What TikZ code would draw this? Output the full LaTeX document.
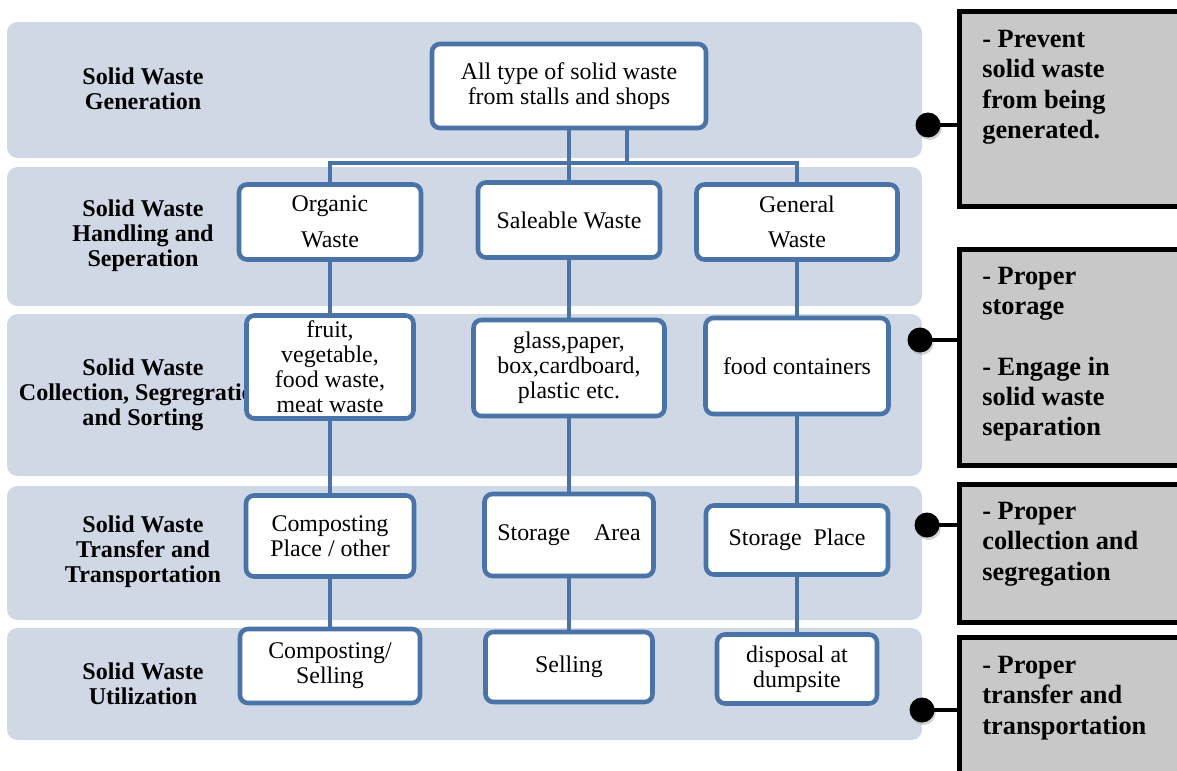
\documentclass[tikz,border=0pt]{standalone}
\usepackage{fontspec}
\setmainfont{Liberation Serif}
\usepackage{tikz}
\usetikzlibrary{positioning}
\usetikzlibrary{shadows}
\definecolor{bandgray}{HTML}{D0D8E6}
\definecolor{boxblue}{HTML}{4A73A8}
\definecolor{notegray}{HTML}{C8C8C8}

\begin{document}
\begin{tikzpicture}[
x=0.02cm, y=-0.02cm,
font=\fontsize{13.6}{14.2}\selectfont,
wastebox/.style={rectangle, draw=boxblue, line width=2.6pt, fill=white, rounded corners=4.5pt, align=center, inner sep=2pt},
stagenode/.style={align=center, font=\fontsize{13.7}{14.2}\selectfont\bfseries},
notebox/.style={rectangle, draw=black, line width=2.6pt, fill=notegray, anchor=north west, minimum width=4.8cm},
notetext/.style={anchor=north west, align=left, inner sep=0pt, font=\fontsize{15}{17.2}\selectfont\bfseries},
dotnode/.style={circle, fill=black, minimum size=0.5cm, inner sep=0pt, drop shadow={shadow xshift=0.8pt, shadow yshift=-1.4pt, fill=gray!70}},
link/.style={boxblue, line width=2.6pt},
noteline/.style={black, line width=2.6pt},
]
\useasboundingbox (0,0) rectangle (1177,771);

%Bands
\foreach \t/\b in {22/158, 167/306, 314/476, 486/620, 628/740}
  \fill[bandgray, rounded corners=6pt] (7,\t) rectangle (922,\b);

%Stage labels
\node[stagenode] (s1) at (143,89)  {Solid Waste\\Generation};
\node[stagenode] (s2) at (143,236) {Solid Waste\\Handling and\\Seperation};
\node[stagenode] (s3) at (143,395) {Solid Waste\\Collection, Segregration\\and Sorting};
\node[stagenode] (s4) at (143,552) {Solid Waste\\Transfer and\\Transportation};
\node[stagenode] (s5) at (143,684) {Solid Waste\\Utilization};

%Waste boxes
\node[wastebox, minimum width=5.48cm, minimum height=1.68cm] (all)   at (569,86)  {All type of solid waste\\from stalls and shops};
\node[wastebox, minimum width=3.64cm, minimum height=1.5cm]  (org)   at (330,222) {Organic\\[6pt]Waste};
\node[wastebox, minimum width=3.64cm, minimum height=1.5cm]  (sal)   at (569,220) {Saleable Waste};
\node[wastebox, minimum width=4.02cm, minimum height=1.5cm]  (gen)   at (797,222) {General\\[6pt]Waste};
\node[wastebox, minimum width=3.34cm, minimum height=2.06cm] (fruit) at (330,367) {fruit,\\vegetable,\\food waste,\\meat waste};
\node[wastebox, minimum width=3.82cm, minimum height=1.92cm] (glass) at (569,368) {glass,paper,\\box,cardboard,\\plastic etc.};
\node[wastebox, minimum width=3.66cm, minimum height=1.92cm] (food)  at (797,366) {food containers};
\node[wastebox, minimum width=3.36cm, minimum height=1.62cm] (comp)  at (330,536) {Composting\\Place / other};
\node[wastebox, minimum width=3.38cm, minimum height=1.64cm] (stora) at (569,535) {Storage\hspace{1em}Area};
\node[wastebox, minimum width=3.64cm, minimum height=1.38cm] (storp) at (797,540) {Storage\ \ Place};
\node[wastebox, minimum width=3.6cm,  minimum height=1.48cm] (csell) at (330,666) {Composting/\\Selling};
\node[wastebox, minimum width=3.34cm, minimum height=1.4cm]  (sell)  at (569,667) {Selling};
\node[wastebox, minimum width=3.2cm,  minimum height=1.38cm] (disp)  at (797,669) {disposal at\\dumpsite};

%Lines
\coordinate (hub)  at (569,163);
\coordinate (stem) at (627,163);
\draw[link] (all) -- (sal);
\draw[link] (all.south -| stem) -- (stem);
\draw[link] (org.north) |- (hub) -| (gen.north);
\draw[link] (org) -- (fruit);
\draw[link] (sal) -- (glass);
\draw[link] (gen) -- (food);
\draw[link] (fruit) -- (comp);
\draw[link] (glass) -- (stora);
\draw[link] (food) -- (storp);
\draw[link] (comp) -- (csell);
\draw[link] (stora) -- (sell);
\draw[link] (storp) -- (disp);

%Notes
\node[notebox, minimum height=3.9cm]  (n1) at (957,9)   {};
\node[notebox, minimum height=4.32cm] (n2) at (957,247) {};
\node[notebox, minimum height=2.76cm] (n3) at (957,482) {};
\node[notebox, minimum height=3.2cm]  (n4) at (957,635) {};
\node[notetext, below right=0.42cm and 0.5cm of n1.north west] (t1) {- Prevent\\solid waste\\from being\\generated.};
\node[notetext, below right=0.4cm and 0.5cm of n2.north west]  (t2) {- Proper\\storage\\[17.2pt]- Engage in\\solid waste\\separation};
\node[notetext, below right=0.4cm and 0.5cm of n3.north west]  (t3) {- Proper\\collection and\\segregation};
\node[notetext, below right=0.42cm and 0.5cm of n4.north west] (t4) {- Proper\\transfer and\\transportation};

\node[dotnode] (d1) at (928,125) {};
\node[dotnode] (d2) at (920,340) {};
\node[dotnode] (d3) at (927,525) {};
\node[dotnode] (d4) at (922,710) {};
\draw[noteline] (d1.center) -- (d1 -| n1.west);
\draw[noteline] (d2.center) -- (d2 -| n2.west);
\draw[noteline] (d3.center) -- (d3 -| n3.west);
\draw[noteline] (d4.center) -- (d4 -| n4.west);
\end{tikzpicture}
\end{document}
